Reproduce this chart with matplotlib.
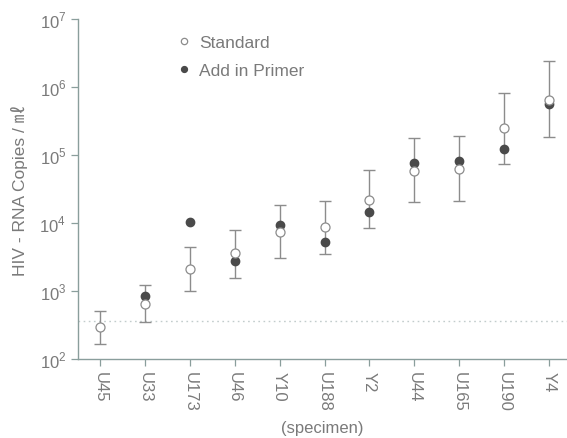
import matplotlib.pyplot as plt
import numpy as np

plt.rcParams["font.family"] = ["Liberation Sans", "Noto Sans CJK JP", "DejaVu Sans"]
plt.rcParams["mathtext.fontset"] = "custom"
plt.rcParams["mathtext.rm"] = "Liberation Sans"

# specimens along the x axis
specimens = ["U45", "U33", "U173", "U46", "Y10", "U188", "Y2", "U44", "U165", "U190", "Y4"]

# HIV-RNA copies/ml
standard = [295, 650, 2100, 3600, 7400, 8700, 21700, 58000, 62000, 250000, 650000]
primer = [np.nan, 850, 10300, 2750, 9300, 5250, 14500, 76000, 81000, 122000, 570000]
err_low = [166, 350, 1000, 1560, 3100, 3500, 8500, 20500, 21000, 74000, 183000]
err_high = [513, 1230, 4470, 7950, 18300, 21000, 60000, 178000, 190000, 810000, 2400000]
detection_limit = 365

TEXT = "#7a7a7a"
AXIS = "#8a9e9c"
FS = 12

fig = plt.figure(figsize=(5.67, 4.39), dpi=100)
ax = fig.add_axes([0.1376, 0.18, 0.8624, 0.7744])

x = np.arange(len(specimens))
std = np.array(standard, dtype=float)
lo = std - np.array(err_low, dtype=float)
hi = np.array(err_high, dtype=float) - std

ax.errorbar(x, std, yerr=[lo, hi], fmt="none", ecolor="#8c8c8c",
            elinewidth=1.0, capsize=4, capthick=1.0, zorder=2)
ax.axhline(detection_limit, color="#c2cccc", linestyle=(0, (1.2, 2.5)),
           linewidth=1.0, zorder=1)
ax.plot(x, primer, "o", color="#4a4a4a", markersize=6, linestyle="none",
        zorder=3, label="Add in Primer")
ax.plot(x, standard, "o", markerfacecolor="white", markeredgecolor="#8c8c8c",
        markeredgewidth=0.9, markersize=6.5, linestyle="none", zorder=4,
        label="Standard")

ax.set_yscale("log")
ax.set_ylim(1e2, 1e7)
ax.set_xlim(-0.49, 10.4)
ax.set_yticks([1e2, 1e3, 1e4, 1e5, 1e6, 1e7])
ax.set_yticklabels([r"$10^{%d}$" % p for p in range(2, 8)])
ax.yaxis.set_minor_locator(plt.NullLocator())
ax.set_xticks(x)
ax.set_xticklabels(specimens, rotation=-90)

for side in ("top", "right"):
    ax.spines[side].set_visible(False)
for side in ("left", "bottom"):
    ax.spines[side].set_color(AXIS)
    ax.spines[side].set_linewidth(1.0)
ax.tick_params(axis="both", colors=AXIS, labelcolor=TEXT, labelsize=FS,
               length=5, width=0.9, direction="out")
ax.tick_params(axis="x", pad=4)

ax.set_ylabel("HIV - RNA Copies / ㎖", color=TEXT, fontsize=12.5, labelpad=8)
ax.set_xlabel("(specimen)", color=TEXT, fontsize=FS, labelpad=6)

handles, labels = ax.get_legend_handles_labels()
leg = ax.legend(handles[::-1], labels[::-1], loc="upper left",
                bbox_to_anchor=(0.163, 1.0), frameon=False, fontsize=12.5,
                handletextpad=0.3, labelspacing=0.75, markerscale=0.7,
                handlelength=1.2)
for t in leg.get_texts():
    t.set_color(TEXT)

fig.savefig("out.png", dpi=100)
